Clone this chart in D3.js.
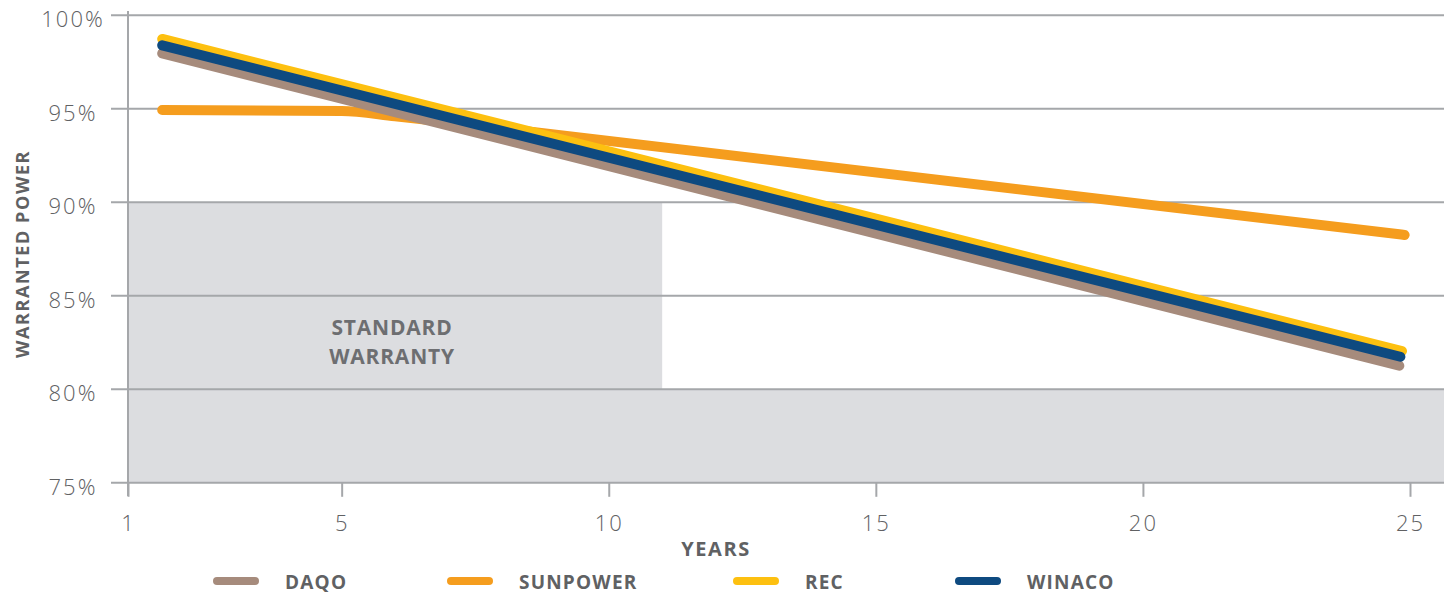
<!DOCTYPE html>
<html>
<head>
<meta charset="utf-8">
<script src="https://cdn.jsdelivr.net/npm/d3@7"></script>
<style>
  html, body { margin: 0; padding: 0; background: #fff; }
  svg { display: block; }
  text { font-family: "Open Sans", "Lato", sans-serif; }
</style>
</head>
<body>
<svg id="chart" width="1451" height="594"></svg>
<script>
// ---- data ----
const seriesNames = ["DAQO", "SUNPOWER", "REC", "WINACO"];
const seriesColors = ["#a68b7c", "#f59d1e", "#fdc010", "#0e4a80"];
const daqoYears = [1.64, 24.8];
const daqoValues = [97.96, 81.26];
const sunpowerYears = [1.64, 5, 6, 7.5, 24.9];
const sunpowerValues = [94.93, 94.88, 94.6, 94.12, 88.25];
const recYears = [1.64, 24.85];
const recValues = [98.73, 82.04];
const winacoYears = [1.64, 24.82];
const winacoValues = [98.39, 81.74];
const xTicks = [1, 5, 10, 15, 20, 25];
const yTicks = [75, 80, 85, 90, 95, 100];
const warrantyEndYear = 11;
const warrantyTop = 90;
const warrantyBottom = 80;

// ---- layout ----
(function () {
const svg = d3.select("#chart");
const plotLeft = 128, plotRight = 1444, plotTop = 15.2, plotBottom = 482.8;
const x = d3.scaleLinear().domain([1, 25]).range([plotLeft, 1410]);
const y = d3.scaleLinear().domain([75, 100]).range([plotBottom, plotTop]);
const gridColor = "#a5a7aa";
const textColor = "#606163";

// shaded regions
svg.append("rect")
  .attr("x", x(1)).attr("y", y(warrantyTop))
  .attr("width", x(warrantyEndYear) - x(1))
  .attr("height", y(warrantyBottom) - y(warrantyTop))
  .attr("fill", "#dcdde0");
svg.append("rect")
  .attr("x", x(1)).attr("y", y(80))
  .attr("width", plotRight - x(1))
  .attr("height", y(75) - y(80))
  .attr("fill", "#dcdde0");

// y gridlines + labels
svg.append("g").selectAll("line").data(yTicks).join("line")
  .attr("x1", 111).attr("x2", plotRight)
  .attr("y1", d => y(d)).attr("y2", d => y(d))
  .attr("stroke", gridColor).attr("stroke-width", 2);
svg.append("g").selectAll("text").data(yTicks).join("text")
  .attr("x", 73).attr("y", d => y(d) + 4).attr("dy", "0.36em")
  .attr("text-anchor", "middle")
  .attr("font-size", 22).attr("font-weight", 300)
  .attr("fill", textColor)
  .attr("letter-spacing", "2px")
  .text(d => d + "%");

// vertical axis line
svg.append("line").attr("x1", plotLeft).attr("x2", plotLeft).attr("y1", 11).attr("y2", 496)
  .attr("stroke", gridColor).attr("stroke-width", 2);

// x axis
const xAxis = d3.axisBottom(x).tickValues(xTicks).tickSize(14).tickSizeOuter(0);
const gx = svg.append("g").attr("transform", `translate(0,${plotBottom})`).call(xAxis);
gx.select(".domain").remove();
gx.selectAll(".tick line").attr("stroke", gridColor).attr("stroke-width", 2);
gx.selectAll(".tick text")
  .attr("y", 48).attr("dy", "0")
  .attr("font-family", '"Open Sans", sans-serif')
  .attr("font-size", 22).attr("font-weight", 300)
  .attr("letter-spacing", "2px")
  .attr("fill", textColor);

// axis titles
svg.append("text").attr("x", 716).attr("y", 556)
  .attr("text-anchor", "middle").attr("font-size", 20).attr("font-weight", 700)
  .attr("letter-spacing", "1.6px")
  .attr("fill", textColor).text("YEARS");
svg.append("text").attr("transform", "translate(29,254) rotate(-90)")
  .attr("text-anchor", "middle").attr("font-size", 18).attr("font-weight", 700)
  .attr("fill", textColor).attr("letter-spacing", "1.6px").text("WARRANTED POWER");

// warranty label
svg.append("text").attr("x", 392).attr("y", 335)
  .attr("text-anchor", "middle").attr("font-size", 21).attr("font-weight", 700)
  .attr("letter-spacing", "0.8px")
  .attr("fill", "#6d6e71").text("STANDARD");
svg.append("text").attr("x", 392).attr("y", 364)
  .attr("text-anchor", "middle").attr("font-size", 21).attr("font-weight", 700)
  .attr("letter-spacing", "0.8px")
  .attr("fill", "#6d6e71").text("WARRANTY");

// lines
const line = d3.line().x(d => x(d[0])).y(d => y(d[1])).curve(d3.curveMonotoneX);
const series = [
  { name: "SUNPOWER", color: seriesColors[1], pts: d3.zip(sunpowerYears, sunpowerValues) },
  { name: "DAQO", color: seriesColors[0], pts: d3.zip(daqoYears, daqoValues) },
  { name: "REC", color: seriesColors[2], pts: d3.zip(recYears, recValues) },
  { name: "WINACO", color: seriesColors[3], pts: d3.zip(winacoYears, winacoValues) }
];
svg.append("g").selectAll("path").data(series).join("path")
  .attr("d", d => line(d.pts))
  .attr("fill", "none")
  .attr("stroke", d => d.color)
  .attr("stroke-width", 10)
  .attr("stroke-linecap", "round")
  .attr("stroke-linejoin", "round");

// legend
const legendSwatchX = [213, 447, 733, 955];
const legendY = 581;
const lg = svg.append("g").selectAll("g").data(seriesNames).join("g")
  .attr("transform", (d, i) => `translate(${legendSwatchX[i]},${legendY})`);
lg.append("line").attr("x1", 4).attr("x2", 42).attr("y1", 0).attr("y2", 0)
  .attr("stroke", (d, i) => seriesColors[i]).attr("stroke-width", 8)
  .attr("stroke-linecap", "round");
lg.append("text").attr("x", 72).attr("y", 1).attr("dy", "0.36em")
  .attr("font-size", 19).attr("font-weight", 700).attr("fill", textColor)
  .attr("letter-spacing", "1.2px")
  .text(d => d);
})();
</script>
</body>
</html>
